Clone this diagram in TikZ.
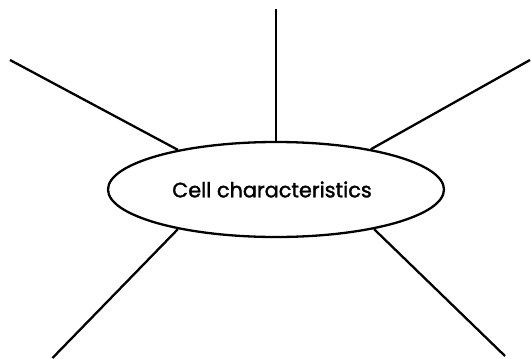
\documentclass[tikz,border=0pt]{standalone}
\usepackage{fontspec}
\setmainfont{Poppins}
\newfontfamily\hubfont{Poppins}[FakeBold=1.6]
\usetikzlibrary{shapes.geometric}
\begin{document}
\begin{tikzpicture}[x=1pt,y=-1pt,
  spoke/.style={line width=2.3pt},
  hub/.style={ellipse,draw,line width=2.3pt,minimum width=336pt,minimum height=95pt,inner sep=0pt,font=\hubfont\fontsize{20.8}{23}\selectfont}]
\useasboundingbox (0,0) rectangle (531,359);
\node[hub] (e) at (276,189.5) {Cell characteristics\hspace*{8pt}};
\coordinate (t) at (276,9);
\coordinate (ul) at (10,60);
\coordinate (ur) at (530,60);
\coordinate (ll) at (52.5,358);
\coordinate (lr) at (505,356);
\draw[spoke] (t) -- (e.north);
\draw[spoke] (ul) -- (e.158);
\draw[spoke] (ur) -- (e.23);
\draw[spoke] (ll) -- (e.202.3);
\draw[spoke] (lr) -- (e.338.7);
\end{tikzpicture}
\end{document}
